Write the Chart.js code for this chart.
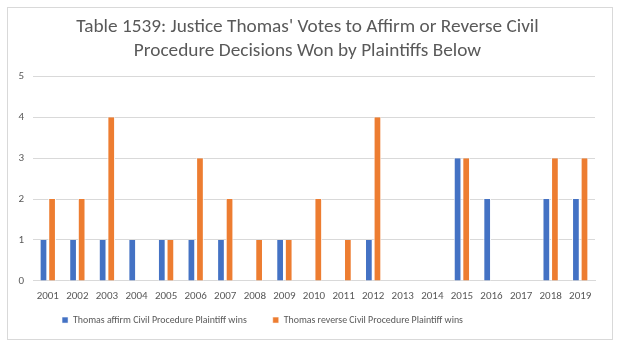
<!DOCTYPE html>
<html>
<head>
<meta charset="utf-8">
<script src="https://cdn.jsdelivr.net/npm/chart.js@4/dist/chart.umd.min.js"></script>
<style>
  body { margin: 0; background: #fff; }
  #rahmen { position: absolute; left: 7px; top: 7px; width: 604px; height: 331px; border: 1px solid #d9d9d9; }
</style>
</head>
<body>
<div id="rahmen"><canvas id="graf" width="604" height="331"></canvas></div>
<script>
// --- DATA ---
const roky = ['2001', '2002', '2003', '2004', '2005', '2006', '2007', '2008', '2009', '2010',
  '2011', '2012', '2013', '2014', '2015', '2016', '2017', '2018', '2019'];
const potvrzeni = [1, 1, 1, 1, 1, 1, 1, 0, 1, 0, 0, 1, 0, 0, 3, 2, 0, 2, 2];
const zruseni = [2, 2, 4, 0, 1, 3, 2, 1, 1, 2, 1, 4, 0, 0, 3, 0, 0, 3, 3];
const nadpis = ["Table 1539: Justice Thomas' Votes to Affirm or Reverse Civil",
  'Procedure Decisions Won by Plaintiffs Below'];

const pismo = "Calibri, Carlito, Lato, sans-serif";
const seda = '#595959';
const MEZERA = 26;

new Chart(document.getElementById('graf'), {
  type: 'bar',
  data: {
    labels: roky,
    datasets: [
      { label: 'Thomas affirm Civil Procedure Plaintiff wins', data: potvrzeni,
        backgroundColor: '#4472c4', borderColor: '#fff', borderWidth: { left: 1, right: 1 }, borderSkipped: false },
      { label: 'Thomas reverse Civil Procedure Plaintiff wins', data: zruseni,
        backgroundColor: '#ed7d31', borderColor: '#fff', borderWidth: { left: 1, right: 1 }, borderSkipped: false }
    ]
  },
  options: {
    responsive: false,
    animation: false,
    datasets: { bar: { categoryPercentage: 0.58, barPercentage: 0.9 } },
    layout: { padding: { left: 5, right: 10, top: 5, bottom: 5 } },
    plugins: {
      title: { display: true, text: nadpis, color: seda, font: { family: pismo, size: 19.3, weight: 'normal' },
        lineHeight: 1.25, padding: { top: 3, bottom: 14 } },
      legend: { position: 'bottom', labels: { color: seda, font: { family: pismo, size: 9.9 },
        boxWidth: 6, boxHeight: 6, padding: MEZERA } },
      tooltip: { enabled: false }
    },
    scales: {
      x: {
        grid: { display: false },
        border: { color: '#d9d9d9' },
        ticks: { color: seda, font: { family: pismo, size: 11 }, maxRotation: 0, autoSkip: false, padding: 1 }
      },
      y: {
        min: 0, max: 5,
        afterFit: s => { s.width = 20; },
        grid: { color: '#d9d9d9', drawTicks: false },
        border: { display: false },
        ticks: { stepSize: 1, color: seda, font: { family: pismo, size: 11 }, padding: 9 }
      },
      // prázdná osa vpravo jen kvůli okraji plochy grafu
      okraj: {
        position: 'right',
        afterFit: s => { s.width = 7; },
        grid: { display: false },
        border: { display: false },
        ticks: { display: false }
      }
    }
  },
  plugins: [{
    // široká mezera mezi položkami legendy, legenda posunutá doleva
    id: 'mezeraLegendy',
    afterInit(chart) {
      const lg = chart.legend;
      const posun = MEZERA - 10;
      const doleva = 45;
      const fit = lg.fit;
      lg.fit = function () {
        fit.call(this);
        this.height -= posun;
      };
      const draw = lg.draw;
      lg.draw = function () {
        this.top -= posun - 1;
        this.left -= doleva;
        this.right -= doleva;
        draw.call(this);
        this.top += posun - 1;
        this.left += doleva;
        this.right += doleva;
      };
    }
  }]
});
</script>
</body>
</html>
